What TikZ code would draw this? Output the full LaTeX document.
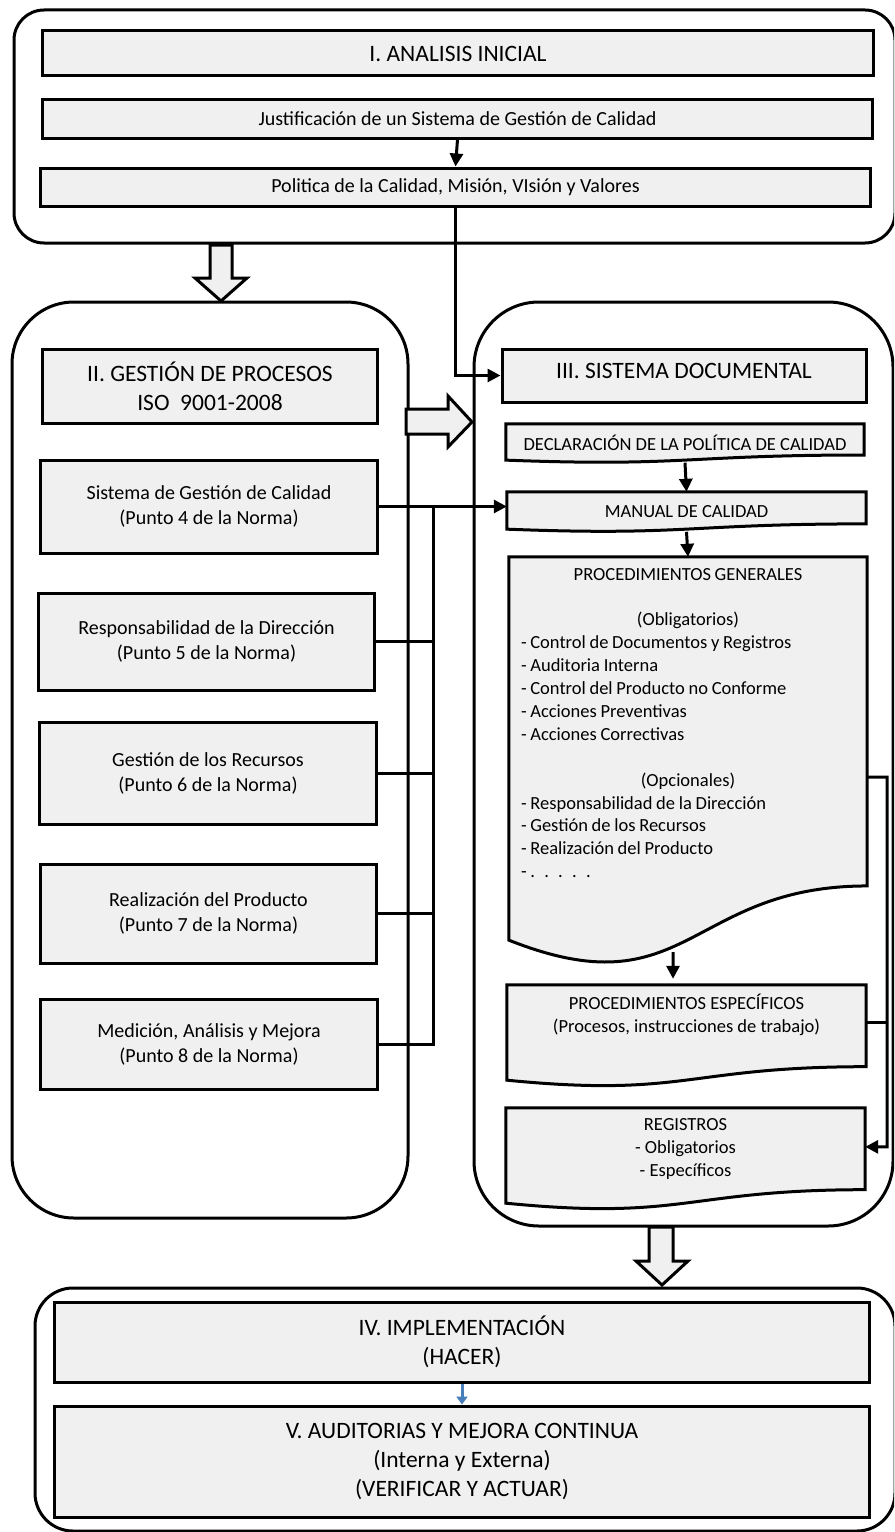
\documentclass[tikz,border=0pt]{standalone}
\usepackage{fontspec}
\setmainfont{Carlito}
\usetikzlibrary{arrows.meta,calc,backgrounds}
\definecolor{boxgray}{RGB}{240,240,240}
\definecolor{linkblue}{RGB}{74,126,187}

\tikzset{
  stage/.style={draw=black, line width=3bp, rounded corners=#1},
  box/.style={draw=black, fill=boxgray, line width=3bp, inner sep=0pt, align=center},
  docnode/.style={inner sep=0pt, align=center},
  docline/.style={draw=black, fill=boxgray, line width=3bp},
  txttitle/.style={font=\fontsize{23.5bp}{29bp}\selectfont},
  txtmid/.style={font=\fontsize{20bp}{25bp}\selectfont},
  txtsmall/.style={font=\fontsize{18.5bp}{22.9bp}\selectfont},
  link/.style={draw=black, line width=3bp},
  arr/.style={link, -{Triangle[length=13bp,width=13bp]}},
  bluearr/.style={draw=linkblue, line width=3bp, -{Triangle[length=8bp,width=11bp]}},
  bigarrow/.style={draw=black, fill=boxgray, line width=3bp, line join=miter},
}

% document-shaped outline (wavy bottom) behind a named node
\newcommand{\docoutline}[1]{%
  \begin{scope}[on background layer]
    \path[docline] (#1.north west) -- (#1.north east)
      -- ($(#1.north east)!0.802!(#1.south east)$)
      .. controls ($(#1.north)!0.802!(#1.south)$) and ($(#1.north)!1.1075!(#1.south)$)
      .. ($(#1.north west)!0.934!(#1.south west)$) -- cycle;
  \end{scope}}

\begin{document}
\begin{tikzpicture}[x=1bp, y=-1bp]
\path[use as bounding box] (0,0) rectangle (894,1532);
\clip (0,0) rectangle (894,1532);

% ---- stage frames
\draw[stage=30bp] (14,10) rectangle (895,243);
\draw[stage=62bp] (12,302) rectangle (408,1218);
\draw[stage=65bp] (474,302) rectangle (893,1226);
\draw[stage=38bp] (35,1288) rectangle (895,1531);

% ---- I. initial analysis
\node[box, txttitle, minimum width=830bp, minimum height=45bp] (ai) at (458,53.5) {I. ANALISIS INICIAL};
\node[box, txtmid, minimum width=829bp, minimum height=38bp] (just) at (457.5,119) {Justificación de un Sistema de Gestión de Calidad};
\node[box, txtmid, minimum width=829bp, minimum height=38bp] (pol) at (455.5,187) {Politica de la Calidad, Misión, VIsión y Valores};

% ---- II. process management
\node[box, txttitle, minimum width=334bp, minimum height=74bp] (gp) at (210,386) {II. GESTIÓN DE PROCESOS\\ISO~ 9001-2008};
\node[box, txtmid, minimum width=336bp, minimum height=93bp] (sgc) at (209,506.5) {Sistema de Gestión de Calidad\\(Punto 4 de la Norma)};
\node[box, txtmid, minimum width=335bp, minimum height=97bp] (resp) at (206.5,641.5) {Responsabilidad de la Dirección\\(Punto 5 de la Norma)};
\node[box, txtmid, minimum width=336bp, minimum height=102bp] (rec) at (208,773) {Gestión de los Recursos\\(Punto 6 de la Norma)};
\node[box, txtmid, minimum width=335bp, minimum height=99bp] (prod) at (208.5,913.5) {Realización del Producto\\(Punto 7 de la Norma)};
\node[box, txtmid, minimum width=336bp, minimum height=90bp] (med) at (209,1044) {Medición, Análisis y Mejora\\(Punto 8 de la Norma)};

% ---- III. documentation system
\node[box, txttitle, text depth=10bp, minimum width=364bp, minimum height=53bp] (sd) at (684,375.5) {III. SISTEMA DOCUMENTAL};
\node[docnode, txtsmall, minimum width=358bp, minimum height=38.5bp] (decl) at (685,443.25) {DECLARACIÓN DE LA POLÍTICA DE CALIDAD};
\docoutline{decl}
\node[docnode, txtsmall, minimum width=359bp, minimum height=39.6bp] (man) at (686.5,511.8) {MANUAL DE CALIDAD};
\docoutline{man}
\node[docnode, minimum width=358bp, minimum height=410bp] (pg) at (688,762) {};
\docoutline{pg}
\node[txtsmall, inner sep=0pt, text width=350bp, align=left, anchor=north] (pgtext) at ([yshift=-11bp]pg.north) {%
\spaceskip=0.2em plus 0.05em\relax
\makebox[350bp]{PROCEDIMIENTOS GENERALES}\\
\mbox{}\\
\makebox[350bp]{(Obligatorios)}\\
\hspace*{8bp}- Control de Documentos y Registros\\
\hspace*{8bp}- Auditoria Interna\\
\hspace*{8bp}- Control del Producto no Conforme\\
\hspace*{8bp}- Acciones Preventivas\\
\hspace*{8bp}- Acciones Correctivas\\
\mbox{}\\
\makebox[350bp]{(Opcionales)}\\
\hspace*{8bp}- Responsabilidad de la Dirección\\
\hspace*{8bp}- Gestión de los Recursos\\
\hspace*{8bp}- Realización del Producto\\
\hspace*{8bp}- . . . . .};
\node[docnode, txtsmall, minimum width=359bp, minimum height=101.7bp] (pe) at (686.5,1035.85) {PROCEDIMIENTOS ESPECÍFICOS\\(Procesos, instrucciones de trabajo)\\\mbox{}\\\mbox{}};
\docoutline{pe}
\node[docnode, txtsmall, minimum width=359bp, minimum height=101.7bp] (reg) at (685.5,1158.85) {REGISTROS\\- Obligatorios\\- Específicos\\\mbox{}};
\docoutline{reg}

% ---- IV / V. implementation and audits
\node[box, txttitle, minimum width=814bp, minimum height=80bp] (iv) at (462,1342) {IV. IMPLEMENTACIÓN\\(HACER)};
\node[box, txttitle, minimum width=814bp, minimum height=111bp] (v) at (462,1461.5) {V. AUDITORIAS Y MEJORA CONTINUA\\(Interna y Externa)\\(VERIFICAR Y ACTUAR)};

% ---- block arrows between stages
\draw[bigarrow] (210,245) -- (232,245) -- (232,278) -- (247,278) -- (221,301) -- (195,278) -- (210,278) -- cycle;
\draw[bigarrow] (406,409) -- (448,409) -- (448,396) -- (472,422) -- (448,447) -- (448,434) -- (406,434) -- cycle;
\draw[bigarrow] (649,1227) -- (673,1227) -- (673,1261) -- (688,1261) -- (662,1285) -- (636,1261) -- (649,1261) -- cycle;

% ---- connectors
\draw[arr] (just.south) -- (pol.north);
\draw[arr] (pol.south) |- (sd.west);
\draw[arr] (decl.south) -- (man.north);
\draw[arr] (man.south) -- (pg.north);
\draw[arr] ([xshift=-15bp,yshift=15bp]pg.south) -- ([xshift=-13.5bp,yshift=6bp]pe.north);

% process boxes feed the quality manual through a common bus
\coordinate (bus) at (433,509);
\draw[arr] (sgc.east) -- (sgc.east -| man.west);
\draw[link] (resp.east) -- (resp.east -| bus);
\draw[link] (rec.east) -- (rec.east -| bus);
\draw[link] (prod.east) -- (prod.east -| bus);
\draw[link] (med.east) -| (sgc.east -| bus);

% general and specific procedures lead to the records
\coordinate (rail) at (887,777);
\draw[arr] ([yshift=-15bp]pg.east) -- (rail) |- ([yshift=12bp]reg.east);
\draw[link] ([yshift=13bp]pe.east) -- ([yshift=13bp]pe.east -| rail);

\draw[bluearr] (iv.south) -- (v.north);
\end{tikzpicture}
\end{document}
